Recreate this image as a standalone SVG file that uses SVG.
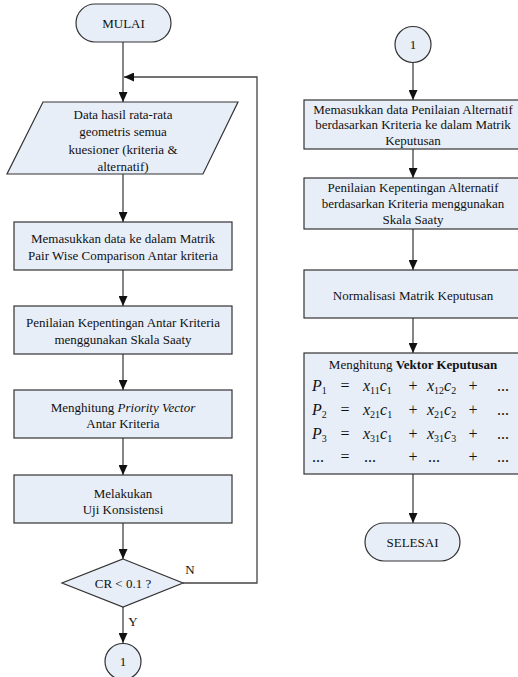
<svg xmlns="http://www.w3.org/2000/svg" width="518" height="677" viewBox="0 0 518 677">
<style>
.s{fill:#E8EEF8;stroke:#333;stroke-width:1.2}
.t{font-family:"Liberation Serif","Times New Roman",serif;font-size:13px;fill:#111;text-anchor:middle}
.m{font-family:"Liberation Serif","Times New Roman",serif;font-size:16px;fill:#111}
.i{font-style:italic}
.sub{font-size:10px}
.c{fill:none;stroke:#444;stroke-width:1.3}
</style>
<defs>
<marker id="ah" markerUnits="userSpaceOnUse" markerWidth="10" markerHeight="9" refX="10" refY="4.5" orient="auto">
<path d="M0,0 L10,4.5 L0,9 z" fill="#111"/>
</marker>
</defs>
<rect width="518" height="677" fill="#fff"/>
<g id="connectors">
<line class="c" x1="123" y1="42" x2="123" y2="102" marker-end="url(#ah)"/>
<polyline class="c" points="183,583 257,583 257,77 124,77" marker-end="url(#ah)"/>
<line class="c" x1="123" y1="174" x2="123" y2="222" marker-end="url(#ah)"/>
<line class="c" x1="123" y1="270" x2="123" y2="306" marker-end="url(#ah)"/>
<line class="c" x1="123" y1="354" x2="123" y2="390" marker-end="url(#ah)"/>
<line class="c" x1="123" y1="438" x2="123" y2="475" marker-end="url(#ah)"/>
<line class="c" x1="123" y1="523" x2="123" y2="559" marker-end="url(#ah)"/>
<line class="c" x1="123" y1="607" x2="123" y2="643" marker-end="url(#ah)"/>
<line class="c" x1="413" y1="63" x2="413" y2="100" marker-end="url(#ah)"/>
<line class="c" x1="413" y1="149" x2="413" y2="178" marker-end="url(#ah)"/>
<line class="c" x1="413" y1="229" x2="413" y2="270" marker-end="url(#ah)"/>
<line class="c" x1="413" y1="318" x2="413" y2="353" marker-end="url(#ah)"/>
<line class="c" x1="413" y1="474" x2="413" y2="523" marker-end="url(#ah)"/>
<text class="t" x="190" y="574">N</text>
<text class="t" x="133" y="626">Y</text>
</g>
<g id="mulai">
<rect class="s" x="76" y="4" width="95" height="38" rx="19"/>
<text class="t" x="123.5" y="27.5">MULAI</text>
</g>
<g id="data">
<polygon class="s" points="43,102 238,102 203,174 7,174"/>
<text class="t" x="123" y="118.5">Data hasil rata-rata</text>
<text class="t" x="123" y="136">geometris semua</text>
<text class="t" x="123" y="153.5">kuesioner (kriteria &amp;</text>
<text class="t" x="123" y="171">alternatif)</text>
</g>
<g id="matrik">
<rect class="s" x="14" y="222" width="218" height="48"/>
<text class="t" x="123" y="242.5">Memasukkan data ke dalam Matrik</text>
<text class="t" x="123" y="259.5">Pair Wise Comparison Antar kriteria</text>
</g>
<g id="penilaian">
<rect class="s" x="14" y="306" width="218" height="48"/>
<text class="t" x="123" y="327">Penilaian Kepentingan Antar Kriteria</text>
<text class="t" x="123" y="343.5">menggunakan Skala Saaty</text>
</g>
<g id="priority">
<rect class="s" x="14" y="390" width="218" height="48"/>
<text class="t" x="123" y="411.5">Menghitung <tspan class="i">Priority Vector</tspan></text>
<text class="t" x="123" y="427.5">Antar Kriteria</text>
</g>
<g id="uji">
<rect class="s" x="14" y="475" width="218" height="48"/>
<text class="t" x="123" y="497.5">Melakukan</text>
<text class="t" x="123" y="513.5">Uji Konsistensi</text>
</g>
<g id="cr">
<polygon class="s" points="123,559 183,583 123,607 62,583"/>
<text class="t" x="123" y="587.5">CR &lt; 0.1 ?</text>
</g>
<g id="c1a">
<circle class="s" cx="123" cy="661.5" r="18"/>
<text class="t" x="123" y="666">1</text>
</g>
<g id="c1b">
<circle class="s" cx="413" cy="44.5" r="18"/>
<text class="t" x="413" y="49">1</text>
</g>
<g id="keputusan">
<rect class="s" x="304" y="100" width="218" height="49"/>
<text class="t" x="413" y="113.5">Memasukkan data Penilaian Alternatif</text>
<text class="t" x="413" y="129">berdasarkan Kriteria ke dalam Matrik</text>
<text class="t" x="413" y="144.5">Keputusan</text>
</g>
<g id="penilaian2">
<rect class="s" x="304" y="178" width="218" height="51"/>
<text class="t" x="413" y="191.5">Penilaian Kepentingan Alternatif</text>
<text class="t" x="413" y="207.5">berdasarkan Kriteria menggunakan</text>
<text class="t" x="413" y="223.5">Skala Saaty</text>
</g>
<g id="normalisasi">
<rect class="s" x="304" y="270" width="218" height="48"/>
<text class="t" x="413" y="299.5">Normalisasi Matrik Keputusan</text>
</g>
<g id="vektor">
<rect class="s" x="304" y="353" width="218" height="121"/>
<text class="t" x="413" y="369">Menghitung <tspan font-weight="bold">Vektor Keputusan</tspan></text>
<text class="m" x="312" y="391"><tspan class="i">P</tspan><tspan class="sub" dy="3">1</tspan></text>
<text class="m" x="345" y="391" text-anchor="middle">=</text>
<text class="m" x="363" y="391"><tspan class="i">x</tspan><tspan class="sub" dy="3">11</tspan><tspan class="i" dy="-3">c</tspan><tspan class="sub" dy="3">1</tspan></text>
<text class="m" x="413" y="391" text-anchor="middle">+</text>
<text class="m" x="427" y="391"><tspan class="i">x</tspan><tspan class="sub" dy="3">12</tspan><tspan class="i" dy="-3">c</tspan><tspan class="sub" dy="3">2</tspan></text>
<text class="m" x="473" y="391" text-anchor="middle">+</text>
<text class="m" x="503" y="391" text-anchor="middle">...</text>
<text class="m" x="312" y="415"><tspan class="i">P</tspan><tspan class="sub" dy="3">2</tspan></text>
<text class="m" x="345" y="415" text-anchor="middle">=</text>
<text class="m" x="363" y="415"><tspan class="i">x</tspan><tspan class="sub" dy="3">21</tspan><tspan class="i" dy="-3">c</tspan><tspan class="sub" dy="3">1</tspan></text>
<text class="m" x="413" y="415" text-anchor="middle">+</text>
<text class="m" x="427" y="415"><tspan class="i">x</tspan><tspan class="sub" dy="3">21</tspan><tspan class="i" dy="-3">c</tspan><tspan class="sub" dy="3">2</tspan></text>
<text class="m" x="473" y="415" text-anchor="middle">+</text>
<text class="m" x="503" y="415" text-anchor="middle">...</text>
<text class="m" x="312" y="439"><tspan class="i">P</tspan><tspan class="sub" dy="3">3</tspan></text>
<text class="m" x="345" y="439" text-anchor="middle">=</text>
<text class="m" x="363" y="439"><tspan class="i">x</tspan><tspan class="sub" dy="3">31</tspan><tspan class="i" dy="-3">c</tspan><tspan class="sub" dy="3">1</tspan></text>
<text class="m" x="413" y="439" text-anchor="middle">+</text>
<text class="m" x="427" y="439"><tspan class="i">x</tspan><tspan class="sub" dy="3">31</tspan><tspan class="i" dy="-3">c</tspan><tspan class="sub" dy="3">3</tspan></text>
<text class="m" x="473" y="439" text-anchor="middle">+</text>
<text class="m" x="503" y="439" text-anchor="middle">...</text>
<text class="m" x="318" y="462" text-anchor="middle">...</text>
<text class="m" x="345" y="462" text-anchor="middle">=</text>
<text class="m" x="370" y="462" text-anchor="middle">...</text>
<text class="m" x="413" y="462" text-anchor="middle">+</text>
<text class="m" x="434" y="462" text-anchor="middle">...</text>
<text class="m" x="473" y="462" text-anchor="middle">+</text>
<text class="m" x="503" y="462" text-anchor="middle">...</text>
</g>
<g id="selesai">
<rect class="s" x="365" y="523" width="95" height="38" rx="19"/>
<text class="t" x="412.5" y="546.5">SELESAI</text>
</g>
</svg>
